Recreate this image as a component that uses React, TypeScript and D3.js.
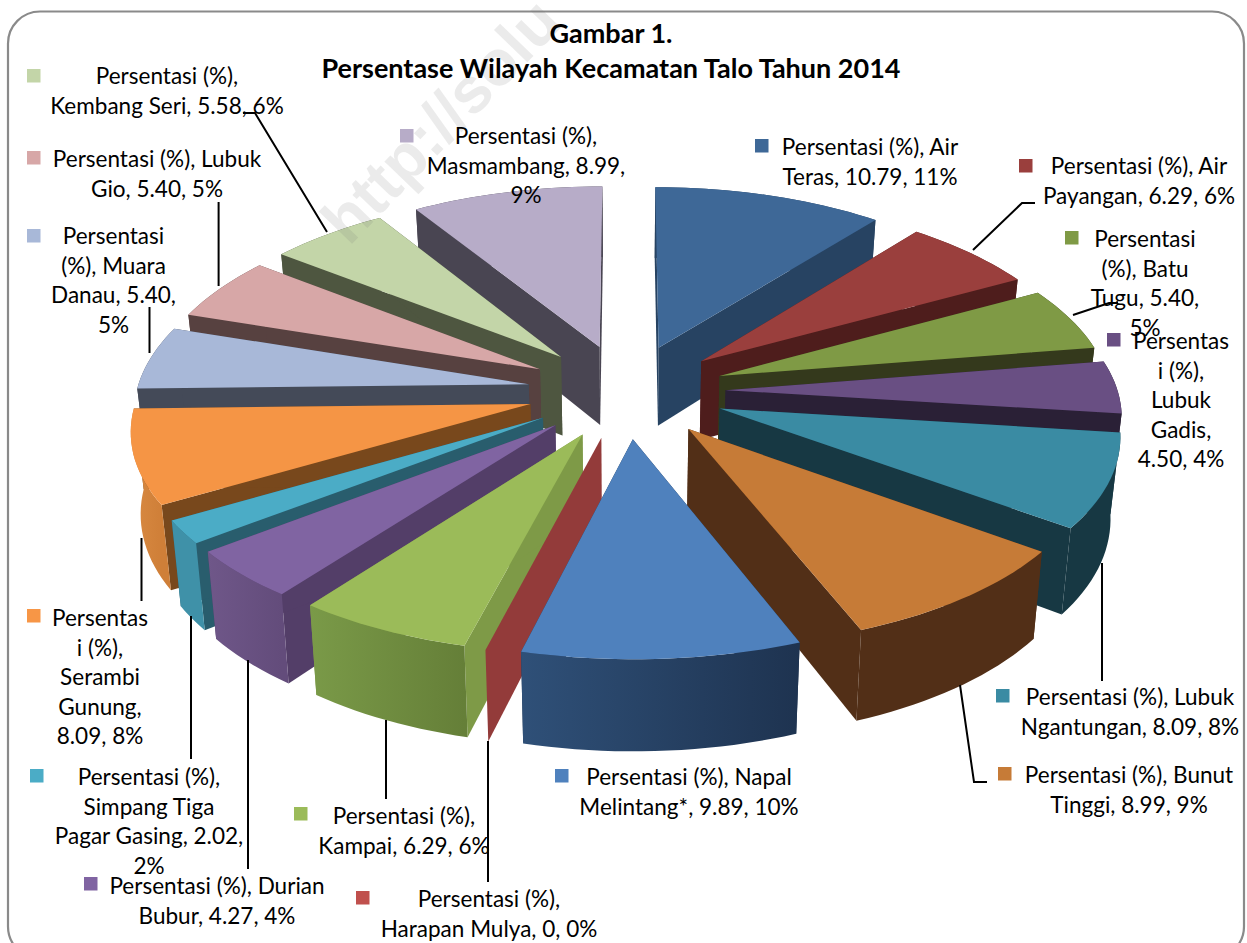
import React from "react";
import * as d3 from "d3";

// ---------- data ----------
const categories = ["Air Teras","Air Payangan","Batu Tugu","Lubuk Gadis","Lubuk Ngantungan","Bunut Tinggi","Napal Melintang*","Harapan Mulya","Kampai","Durian Bubur","Simpang Tiga Pagar Gasing","Serambi Gunung","Muara Danau","Lubuk Gio","Kembang Seri","Masmambang"];
const values = [10.79,6.29,5.40,4.50,8.09,8.99,9.89,0,6.29,4.27,2.02,8.09,5.40,5.40,5.58,8.99];
const titleLines = ["Gambar 1.","Persentase Wilayah Kecamatan Talo Tahun 2014"];
const labelLines = [
  ["Persentasi (%), Air","Teras, 10.79, 11%"],
  ["Persentasi (%), Air","Payangan, 6.29, 6%"],
  ["Persentasi","(%), Batu","Tugu, 5.40,","5%"],
  ["Persentas","i (%),","Lubuk","Gadis,","4.50, 4%"],
  ["Persentasi (%), Lubuk","Ngantungan, 8.09, 8%"],
  ["Persentasi (%), Bunut","Tinggi, 8.99, 9%"],
  ["Persentasi (%), Napal","Melintang*, 9.89, 10%"],
  ["Persentasi (%),","Harapan Mulya, 0, 0%"],
  ["Persentasi (%),","Kampai, 6.29, 6%"],
  ["Persentasi (%), Durian","Bubur, 4.27, 4%"],
  ["Persentasi (%),","Simpang Tiga","Pagar Gasing, 2.02,","2%"],
  ["Persentas","i (%),","Serambi","Gunung,","8.09, 8%"],
  ["Persentasi","(%), Muara","Danau, 5.40,","5%"],
  ["Persentasi (%), Lubuk","Gio, 5.40, 5%"],
  ["Persentasi (%),","Kembang Seri, 5.58, 6%"],
  ["Persentasi (%),","Masmambang, 8.99,","9%"],
];

// ---------- styles ----------
const topColors = ["#3e6897","#9a3f3d","#7f9a45","#694f83","#3a8ba3","#c67b37","#4f81bd","#c0504d","#9bbb59","#8064a2","#4bacc6","#f59545","#a8b8d8","#d7a7a7","#c3d5a8","#b7acc8"];
const swatchColors = ["#3e6897","#9a3f3d","#7f9a45","#694f83","#3a8ba3","#c67b37","#4f81bd","#c0504d","#9bbb59","#8064a2","#4bacc6","#f79646","#a8b8d8","#d7a7a7","#c3d5a8","#b7acc8"];
const sideColors = ["#274362","#4e1d1c","#34391c","#2a2036","#173843","#522f17","#1e3350","#933b3a","#7e9a47","#533e68","#295d6d","#78481c","#444a58","#574140","#4e5640","#494552"];
const outerLeft = ["#274362","#4e1d1c","#34391c","#2a2036","#173843","#522f17","#2f5078","#933b3a","#7a9a48","#6f5789","#3f91a8","#d98a42","#444a58","#574140","#4e5640","#494552"];
const outerRight = ["#274362","#4e1d1c","#34391c","#2a2036","#173843","#522f17","#1e3350","#933b3a","#657f38","#634c7b","#3f91a8","#cf7f38","#444a58","#574140","#4e5640","#494552"];

// ---------- layout of labels ----------
const labelCenter = [870,1139,1145,1181,1130,1129,689,489,404,217,149,100,113.5,157,167,526];
const labelBase = [155,174,247,349,705,783,785,907,824,894,785,626,244,167,84,144];
const swatchX = [755,1019,1065,1107,996,998,555,356,294,84,30,27,27,27,27,400];
const swatchY = [139,159,231,333,689,767,769,891,807,877,769,609,229,151,69,129];
const leaderPaths: number[][][] = [
  [[1035,203],[1022,203],[973,250]],
  [[1073,315],[1109,303],[1118,303]],
  [[1102,563],[1102,681]],
  [[960,685],[974,782],[987,782]],
  [[141.5,538],[141.5,601]],
  [[191,616],[191,759]],
  [[248,660],[248,869]],
  [[386,720],[386,799]],
  [[488,741],[488,882]],
  [[149.5,307],[149.5,353]],
  [[218.6,202],[218.6,286]],
  [[243,113],[255,113],[327,232]],
];

// ---------- projection of the exploded disc ----------
const CX = 626.5, CY = 391, RX = 392, RY = 186, PERSP = 0.105, PERSP_X = 0.118, EXPLODE = 0.253, DEPTH = 80, SHRINK = 0.98;
type P = [number, number];
function project(X: number, Y: number, low: boolean): P {
  const s = 1 / (1 + PERSP * Y);
  const sx = 1 / (1 + PERSP_X * Y);
  const x = CX + RX * X * sx;
  const y = CY - RY * Y * s;
  if (!low) return [x, y];
  return [CX + (x - CX) * SHRINK, y + DEPTH * s];
}

const pieGen = d3.pie<number>().sort(null).startAngle(0).endAngle(2 * Math.PI);
const arcs = pieGen(values);
const poly = d3.line<P>().x(d => d[0]).y(d => d[1]);

const slices = arcs.map((a, i) => {
  const mid = (a.startAngle + a.endAngle) / 2;
  const ox = EXPLODE * Math.sin(mid), oy = EXPLODE * Math.cos(mid);
  const n = Math.max(2, Math.ceil((a.endAngle - a.startAngle) / 0.03));
  const angles = d3.range(n + 1).map(k => a.startAngle + (a.endAngle - a.startAngle) * k / n);
  const rim = angles.map(t => [ox + Math.sin(t), oy + Math.cos(t)] as P);
  const rimTop = rim.map(p => project(p[0], p[1], false));
  const rimLow = rim.map(p => project(p[0], p[1], true));
  const apexTop = project(ox, oy, false);
  const apexLow = project(ox, oy, true);
  const xs = rimTop.map(p => p[0]);
  return { i, oy, zero: a.endAngle === a.startAngle, rimTop, rimLow, apexTop, apexLow, minX: d3.min(xs)!, maxX: d3.max(xs)! };
});
const drawOrder = d3.range(slices.length).sort((a, b) => d3.descending(slices[a].oy, slices[b].oy));

const FONT = "Lato, 'Open Sans', sans-serif";

export default function App() {
  return (
    <svg width={1247} height={943} viewBox="0 0 1247 943" style={{ position: "absolute", left: 0, top: 0, background: "#fff" }}>
      <defs>
        {slices.map(s => (
          <linearGradient key={s.i} id={`outer${s.i}`} gradientUnits="userSpaceOnUse" x1={s.minX} x2={s.maxX} y1={0} y2={0}>
            <stop offset="0" stopColor={outerLeft[s.i]} />
            <stop offset="1" stopColor={outerRight[s.i]} />
          </linearGradient>
        ))}
      </defs>
      <rect x={8} y={11.5} width={1236} height={947} rx={32} ry={32} fill="#fff" stroke="#8a8a8a" strokeWidth={2.2} />

      {drawOrder.map(k => {
        const s = slices[k];
        const first = s.rimTop.length - 1;
        if (s.zero) {
          return (
            <path key={k} d={poly([s.apexTop, s.rimTop[0], s.rimLow[0], s.apexLow])! + "Z"} fill={sideColors[s.i]} />
          );
        }
        return (
          <g key={k}>
            <path d={poly([s.apexTop, s.rimTop[0], s.rimLow[0], s.apexLow])! + "Z"} fill={sideColors[s.i]} />
            <path d={poly([s.apexTop, s.rimTop[first], s.rimLow[first], s.apexLow])! + "Z"} fill={sideColors[s.i]} />
            <path d={poly([...s.rimTop, ...[...s.rimLow].reverse()])! + "Z"} fill={`url(#outer${s.i})`} />
            <path d={poly([s.apexTop, ...s.rimTop])! + "Z"} fill={topColors[s.i]} />
          </g>
        );
      })}

      <text transform="translate(349,247) rotate(-46)" fontFamily="'Liberation Sans', sans-serif" fontWeight="bold" fontSize={64} fill="rgba(110,110,110,0.14)">http://solu</text>

      {leaderPaths.map((p, i) => (
        <path key={i} d={poly(p as P[])!} fill="none" stroke="#000" strokeWidth={2} />
      ))}

      {categories.map((c, i) => (
        <g key={c}>
          <rect x={swatchX[i]} y={swatchY[i]} width={13.5} height={13.5} fill={swatchColors[i]} />
          {labelLines[i].map((line, j) => (
            <text key={j} transform={`translate(${labelCenter[i]},${labelBase[i] + j * 29.6}) scale(0.98,1)`} textAnchor="middle" fontFamily={FONT} fontSize={23} fill="#000">{line}</text>
          ))}
        </g>
      ))}

      {titleLines.map((t, i) => (
        <text key={i} transform={`translate(611,${i === 0 ? 43 : 78})`} textAnchor="middle" fontFamily={FONT} fontWeight="bold" fontSize={27} fill="#000">{t}</text>
      ))}
    </svg>
  );
}
